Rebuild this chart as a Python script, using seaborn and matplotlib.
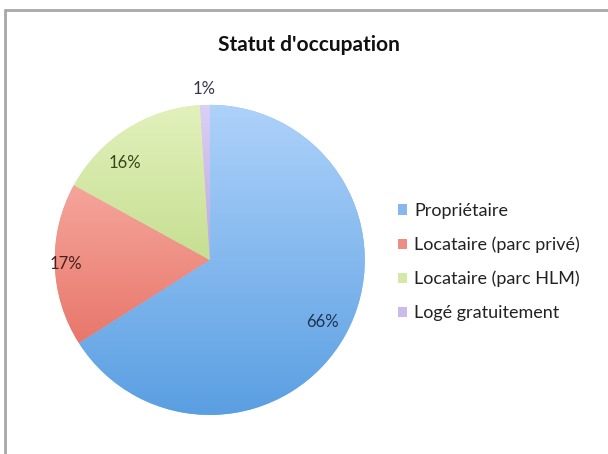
import numpy as np
import seaborn as sns
import matplotlib.pyplot as plt
from matplotlib.lines import Line2D
from matplotlib.colors import LinearSegmentedColormap

# Housing status shares (percent)
categories = ['Propriétaire', 'Locataire (parc privé)', 'Locataire (parc HLM)', 'Logé gratuitement']
shares = [66, 17, 16, 1]
# (top, bottom) shades of the vertical gradient on each slice
slice_tops = ['#aed2fa', '#f5a59b', '#e2f1bc', '#dcd0f5']
slice_bottoms = ['#5a9fe2', '#e8776b', '#c6df92', '#b9a6df']
label_colors = ['#1e3450', '#4a1f1a', '#34461a', '#3a3050']
# percent label placement: fraction of radius and angular nudge (degrees)
label_radius = [0.83, 0.93, 0.83, 1.10]
label_shift = [0, 0, 9, 0]

sns.set_theme(style='white')
plt.rcParams['font.family'] = ['Lato', 'DejaVu Sans']

fig = plt.figure(figsize=(6.08, 4.54), dpi=100)
ax = fig.add_axes([0.090, 0.086, 0.510, 0.683])

mid_colors = [sns.blend_palette([t, b], 3)[1] for t, b in zip(slice_tops, slice_bottoms)]
wedges, _ = ax.pie(shares, colors=mid_colors, startangle=90, counterclock=False,
                   wedgeprops=dict(linewidth=0))
ax.set_xlim(-1, 1)
ax.set_ylim(-1, 1)
ax.set_aspect('equal')

# vertical gradient fill, clipped to each slice
ramp = np.linspace(0, 1, 256).reshape(-1, 1)
for w, top, bot in zip(wedges, slice_tops, slice_bottoms):
    th = np.deg2rad(np.linspace(w.theta1, w.theta2, 200))
    ys = np.concatenate([np.sin(th), [0.0]])
    cmap = LinearSegmentedColormap.from_list('g', [bot, top])
    im = ax.imshow(ramp, cmap=cmap, origin='lower', aspect='auto',
                   extent=[-1, 1, ys.min(), ys.max()], zorder=w.get_zorder() + 0.1)
    im.set_clip_path(w)
ax.set_xlim(-1, 1)
ax.set_ylim(-1, 1)

for w, val, r, s, c in zip(wedges, shares, label_radius, label_shift, label_colors):
    mid = np.deg2rad((w.theta1 + w.theta2) / 2 + s)
    ax.text(r * np.cos(mid), r * np.sin(mid), f'{val}%', ha='center', va='center',
            fontsize=12, color=c, zorder=5)

fig.text(0.508, 0.900, "Statut d'occupation", ha='center', va='center',
         fontsize=15, fontweight='bold', color='#111111')

fig.legend(wedges, categories, loc='center left', bbox_to_anchor=(0.628, 0.423),
           frameon=False, fontsize=13, handlelength=0.5, handleheight=0.5,
           handletextpad=0.4, labelspacing=0.98, labelcolor='#222222')

# chart frame (left and top edges visible in the crop)
fig.add_artist(Line2D([0.008, 0.008], [0.0, 0.978], color='#a8a8a8', lw=2))
fig.add_artist(Line2D([0.008, 1.0], [0.978, 0.978], color='#a8a8a8', lw=2))

fig.savefig('out.png', dpi=100, facecolor='white')
